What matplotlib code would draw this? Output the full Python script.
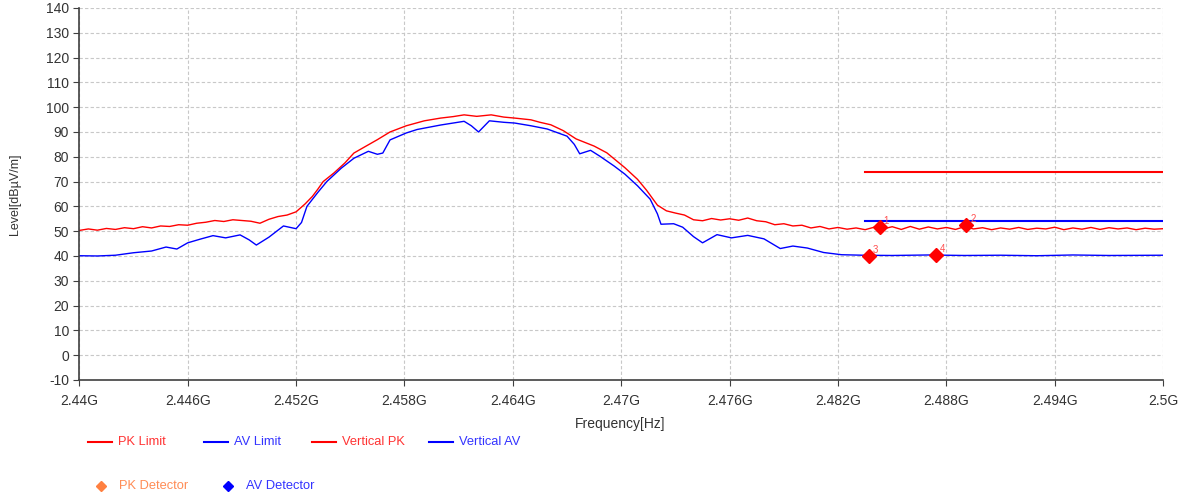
import matplotlib
matplotlib.use("Agg")
import matplotlib.pyplot as plt
from matplotlib.lines import Line2D

plt.rcParams['font.family'] = ['Liberation Sans', 'DejaVu Sans']
plt.rcParams['axes.unicode_minus'] = False

# frequency in MHz, level in dBuV/m
pk_freq = [2440.0, 2440.5, 2441.0, 2441.5, 2442.0, 2442.5, 2443.0, 2443.5, 2444.0, 2444.5,
           2445.0, 2445.5, 2446.0, 2446.5, 2447.0, 2447.5, 2448.0, 2448.5, 2449.0, 2449.5,
           2450.0, 2450.5, 2451.0, 2451.5, 2452.0, 2452.5, 2452.9, 2453.2, 2453.5, 2454.1,
           2454.7, 2455.2, 2455.8, 2456.5, 2457.2, 2458.1, 2459.1, 2460.0, 2460.7, 2461.3,
           2462.0, 2462.8, 2463.5, 2464.1, 2465.0, 2465.5, 2466.1, 2466.8, 2467.5, 2468.5,
           2469.2, 2470.2, 2470.9, 2471.4, 2472.0, 2472.5, 2473.0, 2473.5, 2474.0, 2474.5,
           2475.0, 2475.5, 2476.0, 2476.5, 2477.0, 2477.5, 2478.0, 2478.5, 2479.0, 2479.5,
           2480.0, 2480.5, 2481.0, 2481.5, 2482.0, 2482.5, 2483.0, 2483.5, 2484.0, 2484.5,
           2485.0, 2485.5, 2486.0, 2486.5, 2487.0, 2487.5, 2488.0, 2488.5, 2489.0, 2489.5,
           2490.0, 2490.5, 2491.0, 2491.5, 2492.0, 2492.5, 2493.0, 2493.5, 2494.0, 2494.5,
           2495.0, 2495.5, 2496.0, 2496.5, 2497.0, 2497.5, 2498.0, 2498.5, 2499.0, 2499.5,
           2500.0]
pk_level = [50.3, 50.9, 50.4, 51.1, 50.7, 51.4, 51.0, 51.8, 51.3, 52.1,
            51.9, 52.6, 52.4, 53.2, 53.6, 54.3, 53.9, 54.6, 54.3, 54.0,
            53.2, 54.8, 55.9, 56.5, 57.8, 61.0, 64.0, 66.9, 70.0, 73.5,
            77.5, 81.5, 84.0, 86.9, 90.0, 92.5, 94.5, 95.6, 96.2, 96.9,
            96.3, 96.9, 96.0, 95.6, 94.9, 93.9, 92.9, 90.5, 87.2, 84.3,
            81.6, 75.6, 70.9, 66.5, 60.5, 58.2, 57.3, 56.5, 54.6, 54.2,
            55.1, 54.5, 55.0, 54.4, 55.3, 54.2, 53.8, 52.6, 53.0, 52.1,
            52.4, 51.3, 51.9, 50.9, 51.5, 50.8, 51.3, 50.6, 51.6, 50.9,
            51.8, 50.7, 51.9, 50.8, 51.7, 50.9, 51.5, 50.7, 51.8, 50.9,
            51.4, 50.6, 51.3, 50.8, 51.5, 50.7, 51.2, 50.9, 51.6, 50.6,
            51.3, 50.8, 51.5, 50.7, 51.4, 50.9, 51.3, 50.6, 51.2, 50.8,
            51.0]

av_freq = [2440.0, 2441.0, 2442.0, 2443.0, 2444.0, 2444.8, 2445.4, 2446.0, 2446.7, 2447.4,
           2448.1, 2448.9, 2449.4, 2449.8, 2450.5, 2451.3, 2452.0, 2452.3, 2452.6, 2453.2,
           2453.7, 2454.5, 2455.2, 2456.0, 2456.5, 2456.8, 2457.2, 2458.1, 2458.7, 2460.0,
           2461.3, 2461.7, 2462.1, 2462.7, 2463.5, 2464.1, 2465.0, 2465.9, 2467.0, 2467.4,
           2467.7, 2468.3, 2468.8, 2469.6, 2470.2, 2470.9, 2471.6, 2472.0, 2472.2, 2472.9,
           2473.4, 2474.0, 2474.5, 2475.3, 2476.1, 2477.0, 2477.9, 2478.8, 2479.5, 2480.3,
           2481.2, 2482.2, 2483.4, 2485.0, 2487.0, 2489.0, 2491.0, 2493.0, 2495.0, 2497.0,
           2500.0]
av_level = [40.1, 40.0, 40.3, 41.3, 42.0, 43.6, 42.8, 45.3, 46.8, 48.2,
            47.3, 48.5, 46.5, 44.4, 47.6, 52.1, 51.0, 53.5, 60.0, 65.6,
            70.0, 75.4, 79.4, 82.2, 81.0, 81.5, 86.8, 89.6, 91.0, 92.8,
            94.3, 92.5, 90.0, 94.5, 93.9, 93.6, 92.5, 91.2, 88.3, 85.0,
            81.2, 82.6, 80.3, 76.3, 73.0, 68.3, 62.9, 57.0, 52.8, 53.0,
            51.6, 47.8, 45.3, 48.6, 47.3, 48.3, 46.9, 43.0, 44.0, 43.2,
            41.4, 40.5, 40.3, 40.2, 40.4, 40.2, 40.3, 40.1, 40.4, 40.2,
            40.3]

limit_freq = [2483.5, 2500.0]
pk_limit = [74, 74]
av_limit = [54, 54]

marker_freq = [2484.3, 2489.1, 2483.7, 2487.4]
marker_level = [51.6, 52.5, 40.0, 40.4]
marker_label = ['1', '2', '3', '4']

xticks = [2440, 2446, 2452, 2458, 2464, 2470, 2476, 2482, 2488, 2494, 2500]
xtick_labels = ['2.44G', '2.446G', '2.452G', '2.458G', '2.464G', '2.47G',
                '2.476G', '2.482G', '2.488G', '2.494G', '2.5G']

fig = plt.figure(figsize=(11.82, 4.98), dpi=100)
ax = fig.add_axes([0.0671, 0.237, 0.917, 0.747])

red = '#ff0000'
blue = '#0000ff'
ax.plot(pk_freq, pk_level, color=red, lw=1.0)
ax.plot(av_freq, av_level, color=blue, lw=1.0)
ax.plot(limit_freq, pk_limit, color=red, lw=1.5)
ax.plot(limit_freq, av_limit, color=blue, lw=1.5)
ax.plot(marker_freq, marker_level, linestyle='none', marker='D', color=red, markersize=7.5)
for f, l, t in zip(marker_freq, marker_level, marker_label):
    ax.annotate(t, (f, l), xytext=(3, 2), textcoords='offset points',
                color='#ff5050', fontsize=7)

ax.set_xlim(2440, 2500)
ax.set_ylim(-10, 140)
ax.set_xticks(xticks)
ax.set_xticklabels(xtick_labels)
ax.set_yticks(range(-10, 141, 10))
ax.grid(True, color='#c8c8c8', linestyle=(0, (3, 2)), linewidth=0.8)
ax.set_axisbelow(True)
for side in ['top', 'right']:
    ax.spines[side].set_visible(False)
for side in ['left', 'bottom']:
    ax.spines[side].set_color('#404040')
    ax.spines[side].set_linewidth(1.2)
ax.tick_params(axis='both', direction='out', length=4, colors='#404040',
               labelcolor='#333333', labelsize=10)
ax.tick_params(axis='x', pad=6)

fig.text(0.013, 0.61, 'Level[dBµV/m]', rotation=90, ha='center', va='center',
         fontsize=9, color='#333333')
fig.text(0.525, 0.148, 'Frequency[Hz]', ha='center', va='center', fontsize=10,
         color='#333333')

# legend drawn by hand to match the two-row layout
leg_y1 = 1 - 442 / 498
legend_lines = [(88, 'PK Limit', red, '#ff3333'),
                (204, 'AV Limit', blue, '#3333ff'),
                (312, 'Vertical PK', red, '#ff3333'),
                (429, 'Vertical AV', blue, '#3333ff')]
for x0, label, lc, tc in legend_lines:
    fig.add_artist(Line2D([x0 / 1182, (x0 + 24) / 1182], [leg_y1, leg_y1],
                          color=lc, lw=1.5))
    fig.text((x0 + 30) / 1182, leg_y1, label, color=tc, fontsize=9.3, va='center')

leg_y2 = 1 - 486 / 498
legend_marks = [(101, 'PK Detector', '#ff8040', '#ff8c55'),
                (228, 'AV Detector', blue, '#3333ff')]
for x0, label, mc, tc in legend_marks:
    fig.add_artist(Line2D([x0 / 1182], [leg_y2], marker='D', color=mc,
                          markersize=5, linestyle='none'))
    fig.text((x0 + 18) / 1182, leg_y2, label, color=tc, fontsize=9.3, va='center')

fig.savefig('out.png', dpi=100)
